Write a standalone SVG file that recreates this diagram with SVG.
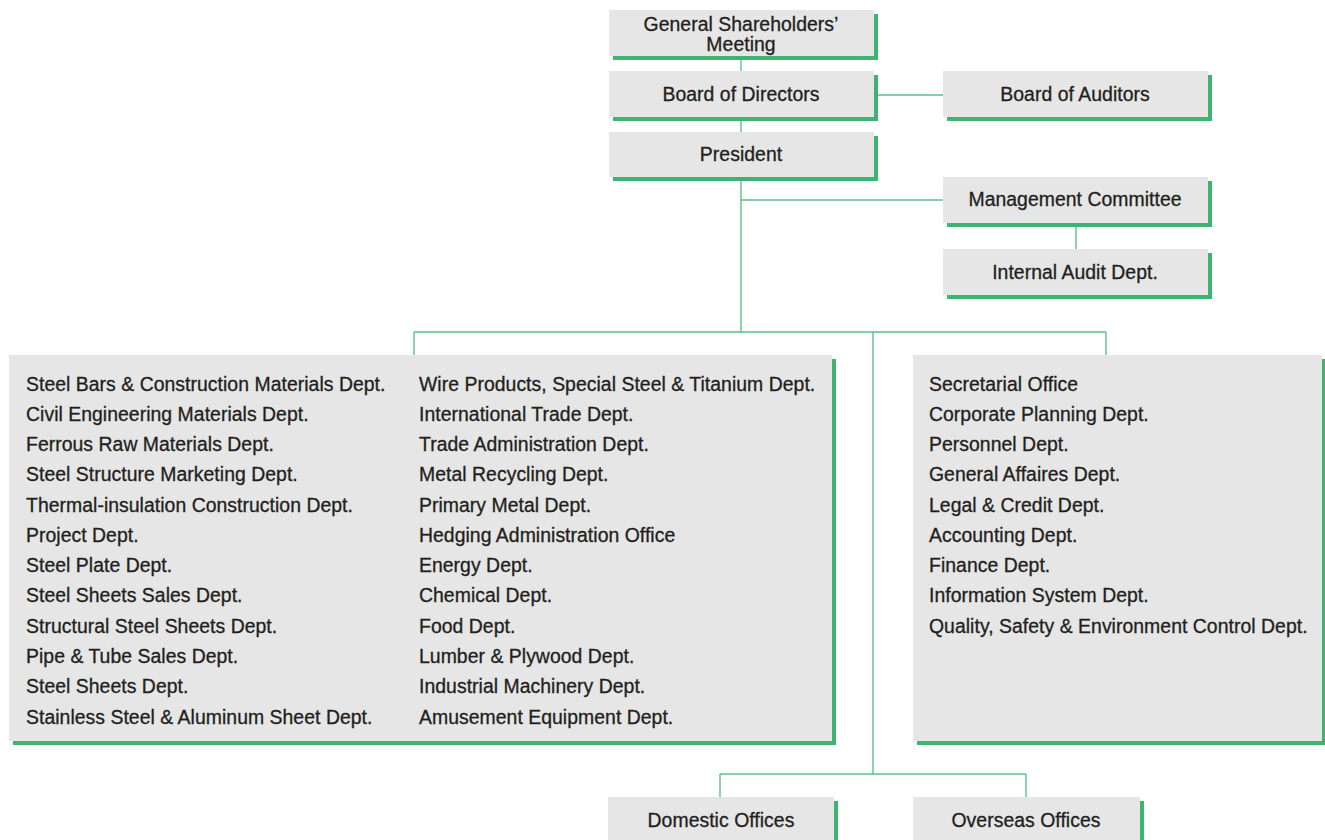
<svg xmlns="http://www.w3.org/2000/svg" width="1325" height="840" viewBox="0 0 1325 840">
<style>
.sh{fill:#3db470}
.bx{fill:#e6e6e6}
.c{stroke:#5cc08c;stroke-width:1.4;fill:none}
text{font-family:"Liberation Sans",Arial,sans-serif;font-size:19.4px;letter-spacing:0.04px;fill:#231f20;stroke:#231f20;stroke-width:0.3px}
.m{text-anchor:middle}
</style>
<rect width="1325" height="840" fill="#ffffff"/>
<g id="connectors">
<path class="c" d="M741 56V332M874 95H943M741 200H943M1076 223V249M414 332H1106M414 332V355M1106 332V355M873 332V774M720 774H1026M720 774V797M1026 774V797"/>
</g>
<g id="gsm">
<rect class="sh" x="613" y="14" width="265" height="46"/>
<rect class="bx" x="609" y="10" width="265" height="46"/>
<text class="m" x="741" y="30.5">General Shareholders’</text>
<text class="m" x="741" y="51">Meeting</text>
</g>
<g id="bod">
<rect class="sh" x="613" y="75" width="265" height="46"/>
<rect class="bx" x="609" y="71" width="265" height="46"/>
<text class="m" x="741" y="101">Board of Directors</text>
</g>
<g id="president">
<rect class="sh" x="613" y="136" width="265" height="45"/>
<rect class="bx" x="609" y="132" width="265" height="45"/>
<text class="m" x="741" y="161">President</text>
</g>
<g id="boa">
<rect class="sh" x="947" y="75" width="265" height="46"/>
<rect class="bx" x="943" y="71" width="265" height="46"/>
<text class="m" x="1075" y="101">Board of Auditors</text>
</g>
<g id="mc">
<rect class="sh" x="947" y="181" width="265" height="46"/>
<rect class="bx" x="943" y="177" width="265" height="46"/>
<text class="m" x="1075" y="206">Management Committee</text>
</g>
<g id="iad">
<rect class="sh" x="947" y="253" width="265" height="46"/>
<rect class="bx" x="943" y="249" width="265" height="46"/>
<text class="m" x="1075" y="278.5">Internal Audit Dept.</text>
</g>
<g id="depts">
<rect class="sh" x="13" y="359" width="823" height="386"/>
<rect class="bx" x="9" y="355" width="823" height="386"/>
<text x="26" y="390.5">Steel Bars &amp; Construction Materials Dept.</text>
<text x="26" y="420.8">Civil Engineering Materials Dept.</text>
<text x="26" y="451">Ferrous Raw Materials Dept.</text>
<text x="26" y="481.3">Steel Structure Marketing Dept.</text>
<text x="26" y="511.6">Thermal-insulation Construction Dept.</text>
<text x="26" y="541.9">Project Dept.</text>
<text x="26" y="572.1">Steel Plate Dept.</text>
<text x="26" y="602.4">Steel Sheets Sales Dept.</text>
<text x="26" y="632.7">Structural Steel Sheets Dept.</text>
<text x="26" y="662.9">Pipe &amp; Tube Sales Dept.</text>
<text x="26" y="693.2">Steel Sheets Dept.</text>
<text x="26" y="723.5">Stainless Steel &amp; Aluminum Sheet Dept.</text>
<text x="419" y="390.5">Wire Products, Special Steel &amp; Titanium Dept.</text>
<text x="419" y="420.8">International Trade Dept.</text>
<text x="419" y="451">Trade Administration Dept.</text>
<text x="419" y="481.3">Metal Recycling Dept.</text>
<text x="419" y="511.6">Primary Metal Dept.</text>
<text x="419" y="541.9">Hedging Administration Office</text>
<text x="419" y="572.1">Energy Dept.</text>
<text x="419" y="602.4">Chemical Dept.</text>
<text x="419" y="632.7">Food Dept.</text>
<text x="419" y="662.9">Lumber &amp; Plywood Dept.</text>
<text x="419" y="693.2">Industrial Machinery Dept.</text>
<text x="419" y="723.5">Amusement Equipment Dept.</text>
</g>
<g id="admin">
<rect class="sh" x="917" y="359" width="409" height="386"/>
<rect class="bx" x="913" y="355" width="409" height="386"/>
<text x="929" y="390.5">Secretarial Office</text>
<text x="929" y="420.8">Corporate Planning Dept.</text>
<text x="929" y="451">Personnel Dept.</text>
<text x="929" y="481.3">General Affaires Dept.</text>
<text x="929" y="511.6">Legal &amp; Credit Dept.</text>
<text x="929" y="541.9">Accounting Dept.</text>
<text x="929" y="572.1">Finance Dept.</text>
<text x="929" y="602.4">Information System Dept.</text>
<text x="929" y="632.7">Quality, Safety &amp; Environment Control Dept.</text>
</g>
<g id="domestic">
<rect class="sh" x="612" y="801" width="226" height="50"/>
<rect class="bx" x="608" y="797" width="226" height="50"/>
<text class="m" x="721" y="826.5">Domestic Offices</text>
</g>
<g id="overseas">
<rect class="sh" x="917" y="801" width="227" height="50"/>
<rect class="bx" x="913" y="797" width="227" height="50"/>
<text class="m" x="1026" y="826.5">Overseas Offices</text>
</g>
</svg>
